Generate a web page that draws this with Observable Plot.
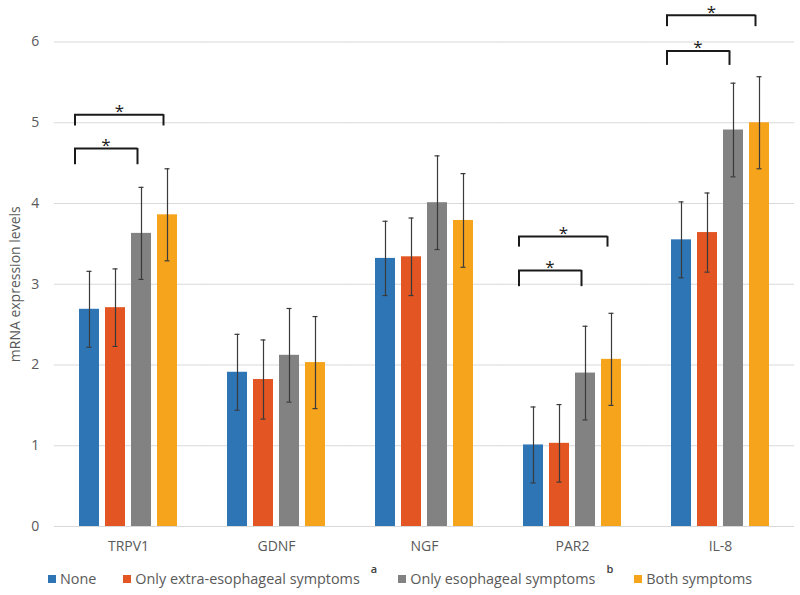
<!DOCTYPE html>
<html>
<head>
<meta charset="utf-8">
<script src="https://cdn.jsdelivr.net/npm/d3@7"></script>
<script src="https://cdn.jsdelivr.net/npm/@observablehq/plot@0.6"></script>
<style>
  html, body { margin: 0; padding: 0; background: #fff; }
  #wrap { width: 800px; font-family: "Open Sans", "Noto Sans", sans-serif; }
  #legend { display: flex; justify-content: center; align-items: center; gap: 27px;
    font-size: 14.4px; color: #595959; height: 35px; padding-top: 2px; box-sizing: border-box; }
  #legend .item { display: flex; align-items: center; white-space: nowrap; }
  #legend .sw { width: 8px; height: 8px; margin-right: 4px; display: inline-block; }
  #legend .sup { font-size: 11px; font-weight: 600; color: #404040; position: relative; top: -10px; margin-left: 11px; margin-right: -6px; }
</style>
</head>
<body>
<div id="wrap"><div id="chart"></div><div id="legend"></div></div>
<script>
// ---- data ----
const genes = ["TRPV1", "GDNF", "NGF", "PAR2", "IL-8"];
const series = ["None", "Only extra-esophageal symptoms", "Only esophageal symptoms", "Both symptoms"];
const seriesNote = ["", "a", "b", ""];
const colors = ["#2E75B6", "#E35522", "#828282", "#F6A41C"];

const meanNone  = [2.69, 1.91, 3.32, 1.01, 3.55];
const meanExtra = [2.71, 1.82, 3.34, 1.03, 3.64];
const meanEso   = [3.63, 2.12, 4.01, 1.90, 4.91];
const meanBoth  = [3.86, 2.03, 3.79, 2.07, 5.00];

const errNone  = [0.47, 0.47, 0.46, 0.47, 0.47];
const errExtra = [0.48, 0.49, 0.48, 0.48, 0.49];
const errEso   = [0.57, 0.58, 0.58, 0.58, 0.58];
const errBoth  = [0.57, 0.57, 0.58, 0.57, 0.57];

const yTicks = [0, 1, 2, 3, 4, 5, 6];

// significance brackets
const bracketGene = ["TRPV1", "TRPV1", "PAR2", "PAR2", "IL-8", "IL-8"];
const bracketFrom = ["None", "None", "None", "None", "None", "None"];
const bracketTo   = ["Only esophageal symptoms", "Both symptoms", "Only esophageal symptoms", "Both symptoms", "Only esophageal symptoms", "Both symptoms"];
const bracketTop  = [4.68, 5.10, 3.17, 3.59, 5.89, 6.33];
const bracketTip  = [4.48, 4.96, 2.97, 3.46, 5.71, 6.19];
const bracketLabel = ["*", "*", "*", "*", "*", "*"];

// ---- build tables ----
const means = [meanNone, meanExtra, meanEso, meanBoth];
const errs = [errNone, errExtra, errEso, errBoth];
const rows = [];
genes.forEach((g, gi) => series.forEach((s, si) => {
  rows.push({gene: g, series: s, value: means[si][gi], lo: means[si][gi] - errs[si][gi], hi: means[si][gi] + errs[si][gi]});
}));
const brackets = bracketGene.map((g, i) => ({
  gene: g, from: bracketFrom[i], to: bracketTo[i], top: bracketTop[i], tip: bracketTip[i], label: bracketLabel[i],
  mid: series[1]
}));
const innerBr = brackets.filter(d => d.to === series[2]);
const outerBr = brackets.filter(d => d.to === series[3]);

const W = 800, H = 560;
const mL = 53, mR = 5, mT = 41.5, mB = 34;
const fxPadInner = 0.3127, fxPadOuter = fxPadInner / 2;
const step = (W - mL - mR) / (genes.length - fxPadInner + 2 * fxPadOuter);
const facetW = step * (1 - fxPadInner);
const gapHalf = step * fxPadInner / 2;
const xPad = 0.222;
const xStep = facetW / (series.length - xPad);
const bw = xStep * (1 - xPad);

const ink = "#1a1a1a";

const chart = Plot.plot({
  width: W, height: H,
  marginLeft: mL, marginRight: mR, marginTop: mT, marginBottom: mB,
  style: {fontFamily: '"Open Sans", "Noto Sans", sans-serif', fontSize: "14px", color: "#595959", background: "#fff", overflow: "visible"},
  fx: {domain: genes, paddingInner: fxPadInner, paddingOuter: fxPadOuter, axis: "bottom", label: null, tickSize: 0, tickPadding: 15},
  x: {domain: series, paddingInner: xPad, paddingOuter: 0, axis: null},
  y: {domain: [0, 6], ticks: yTicks, tickFormat: d => String(d), tickSize: 0, tickPadding: gapHalf + 15,
      label: "mRNA expression levels", labelAnchor: "center", labelOffset: gapHalf + 44, labelArrow: "none", grid: false},
  color: {domain: series, range: colors},
  marks: [
    Plot.ruleY(yTicks, {y: d => d, stroke: "#d9d9d9", strokeWidth: 1, insetLeft: -gapHalf, insetRight: -gapHalf}),
    Plot.barY(rows, {fx: "gene", x: "series", y: "value", fill: "series"}),
    Plot.ruleX(rows, {fx: "gene", x: "series", y1: "lo", y2: "hi", stroke: "#3a3a3a", strokeWidth: 1.2}),
    Plot.tickY(rows, {fx: "gene", x: "series", y: "lo", stroke: "#3a3a3a", strokeWidth: 1.2, insetLeft: (bw - 6) / 2, insetRight: (bw - 6) / 2}),
    Plot.tickY(rows, {fx: "gene", x: "series", y: "hi", stroke: "#3a3a3a", strokeWidth: 1.2, insetLeft: (bw - 6) / 2, insetRight: (bw - 6) / 2}),
    // brackets: horizontal bar and two downward tips
    Plot.ruleY(brackets, {fx: "gene", x1: "from", x2: "to", y: "top", dx: -4, insetLeft: -1, insetRight: bw / 2 - 1, stroke: ink, strokeWidth: 2}),
    Plot.ruleX(brackets, {fx: "gene", x: "from", y1: "tip", y2: "top", dx: -4 - bw / 2, stroke: ink, strokeWidth: 2}),
    Plot.ruleX(brackets, {fx: "gene", x: "to", y1: "tip", y2: "top", dx: -4, stroke: ink, strokeWidth: 2}),
    Plot.text(innerBr, {fx: "gene", x: "mid", y: "top", text: "label", dx: -9.5, dy: -3, fontSize: 17, fill: ink}),
    Plot.text(outerBr, {fx: "gene", x: "mid", y: "top", text: "label", dx: 4, dy: -3, fontSize: 17, fill: ink}),
  ]
});
document.getElementById("chart").appendChild(chart);

// ---- legend ----
const legend = document.getElementById("legend");
series.forEach((s, i) => {
  const it = document.createElement("div");
  it.className = "item";
  const sw = document.createElement("span");
  sw.className = "sw"; sw.style.background = colors[i];
  it.appendChild(sw);
  it.appendChild(document.createTextNode(s));
  if (seriesNote[i]) {
    const sup = document.createElement("span");
    sup.className = "sup";
    sup.textContent = seriesNote[i];
    it.appendChild(sup);
  }
  legend.appendChild(it);
});
</script>
</body>
</html>
